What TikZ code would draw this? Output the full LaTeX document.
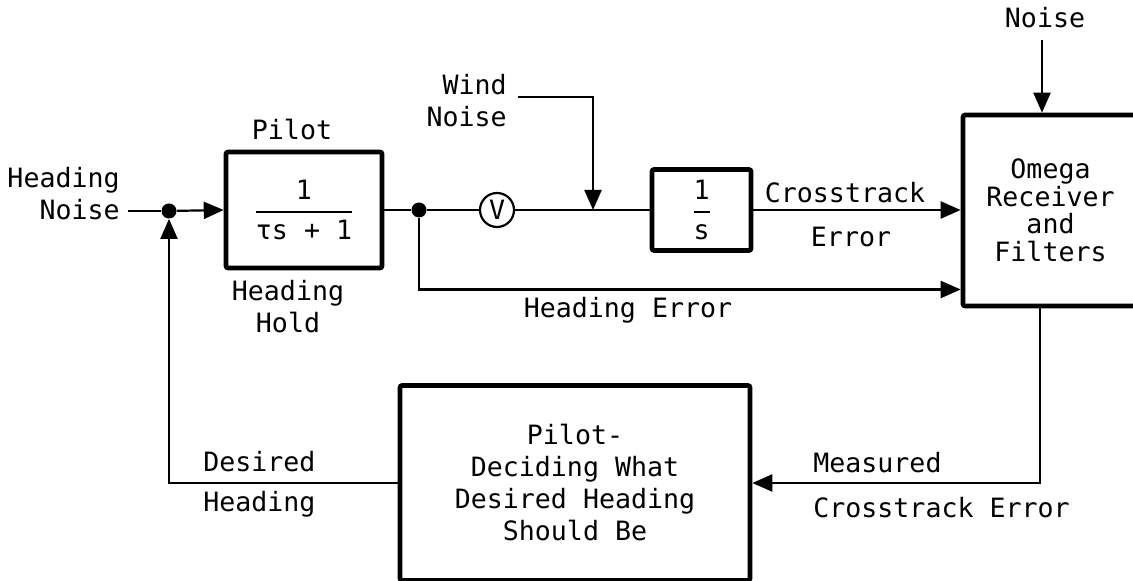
\documentclass[tikz,border=0pt]{standalone}
\usepackage{amsmath}
\usepackage{fontspec}
\newfontfamily\diagfont{DejaVu Sans Mono}
\usetikzlibrary{arrows.meta}
\newcommand{\blockfrac}[2]{$\genfrac{}{}{1pt}{0}{\text{#1}}{\text{#2}}$}
\tikzset{
  lbl/.style={inner sep=0pt,font=\diagfont\fontsize{13.3}{16}\selectfont},
  blockbox/.style={lbl,draw,line width=2.3pt,rounded corners=1pt},
  sig/.style={line width=1.1pt},
  arr/.style={sig,-{Triangle[length=10pt,width=8.5pt]}},
  jdot/.style={circle,fill,inner sep=0pt,minimum size=7.5pt}
}
\begin{document}
\begin{tikzpicture}[x=0.5pt,y=-0.5pt]
	\useasboundingbox (0,0) rectangle (1133,581);

	% blocks
	\node[blockbox,minimum width=78pt,minimum height=58pt] (pilot) at (304,210) {\blockfrac{1}{τs + 1}};
	\node[blockbox,minimum width=49.5pt,minimum height=40.5pt] (integ) at (701.5,210) {\blockfrac{1}{s}};
	\node[blockbox,minimum width=87.5pt,minimum height=95.5pt,align=center,
		font=\diagfont\fontsize{13.3}{13.8}\selectfont] (omega) at (1050.5,210.5) {Omega\\Receiver\\and\\Filters};
	\node[blockbox,minimum width=175pt,minimum height=97.5pt,align=center] (plan) at (575,483)
		{Pilot-\\Deciding What\\Desired Heading\\Should Be};

	% junctions and gain
	\node[jdot] (j1) at (169,211) {};
	\node[jdot] (j2) at (419,210) {};
	\node[lbl,circle,draw,line width=1.1pt,minimum size=17pt] (vgain) at (497,210) {V};

	% free ends
	\coordinate (hnin) at (128,211);
	\coordinate (windin) at (518,97);
	\coordinate (windjoin) at (593,210);
	\coordinate (noisein) at (1042,40);

	% labels
	\node[lbl,align=right,anchor=east] (hnoiselbl) at (120,194) {Heading\\Noise};
	\node[lbl,anchor=base] (pilotlbl) at (292,140) {Pilot};
	\node[lbl,align=center] (holdlbl) at (288,307) {Heading\\Hold};
	\node[lbl,align=right,anchor=east] (windlbl) at (507,101) {Wind\\Noise};
	\node[lbl,anchor=base] (noiselbl) at (1045,28) {Noise};
	\node[lbl,anchor=base] (ctlbl) at (845,203) {Crosstrack};
	\node[lbl,anchor=base] (ctlblb) at (851,247) {Error};
	\node[lbl,anchor=base] (helbl) at (628,318) {Heading Error};
	\node[lbl,anchor=base west] (dhlbl) at (203,472) {Desired};
	\node[lbl,anchor=base west] (dhlblb) at (203,511) {Heading};
	\node[lbl,anchor=base west] (mclbl) at (813,473) {Measured};
	\node[lbl,anchor=base west] (mclblb) at (813,517) {Crosstrack Error};

	% forward path
	\draw[sig] (hnin) -- (j1);
	\draw[arr] (j1) -- (pilot.west);
	\draw[sig] (pilot.east) -- (j2) -- (vgain) -- (integ.west);
	\draw[arr] (integ.east) -- (integ.east -| omega.west);
	\draw[arr] (j2) |- ([yshift=-39.5pt]omega.west);
	\draw[arr] (windin) -| (windjoin);
	\draw[arr] (noisein) -- (noisein |- omega.north);

	% feedback path
	\draw[arr] ([xshift=-5.25pt]omega.south) |- (plan.east);
	\draw[arr] (plan.west) -| (j1);
\end{tikzpicture}
\end{document}
